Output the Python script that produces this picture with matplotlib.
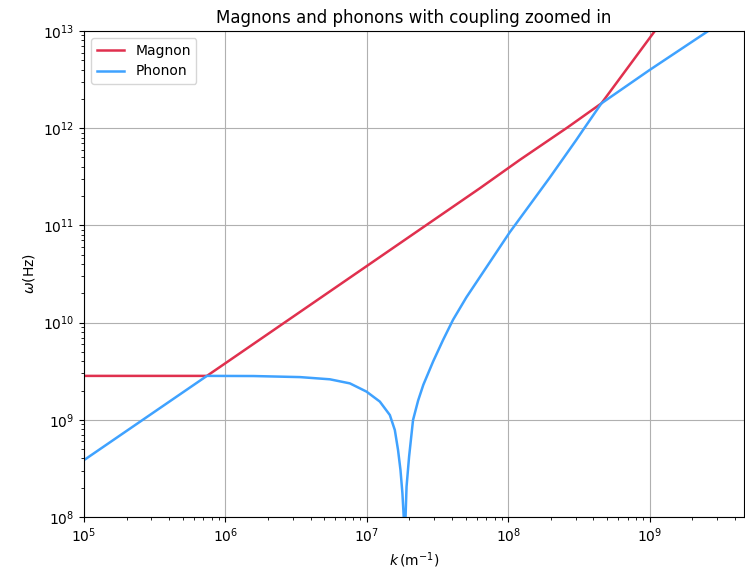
import matplotlib
matplotlib.use("Agg")
import matplotlib.pyplot as plt
import numpy as np

# values (k in 1/m, omega in Hz)
k_magnon = [1e5, 7.40e5, 1e6, 1e7, 6.30e7, 1.205e8, 2.63e8, 4.56e8,
            1.08e9, 1.58e9]
w_magnon = [2.83e9, 2.83e9, 3.82e9, 3.82e10, 2.41e11, 4.71e11, 1.02e12,
            1.80e12, 9.84e12, 2.1e13]

k_phonon = [1e5, 7.40e5, 1.58e6, 3.37e6, 5.48e6, 7.59e6, 9.95e6, 1.236e7,
            1.455e7, 1.578e7, 1.663e7, 1.730e7, 1.786e7, 1.824e7, 1.854e7,
            1.879e7, 1.910e7, 1.991e7, 2.123e7, 2.307e7, 2.51e7, 2.944e7,
            3.459e7, 4.074e7, 5.06e7, 7.40e7, 1.026e8, 1.419e8, 1.963e8,
            3.03e8, 3.38e8, 4.56e8, 1e9, 2.65e9, 5.0e9]
w_phonon = [3.85e8, 2.83e9, 2.82e9, 2.75e9, 2.61e9, 2.37e9, 1.95e9, 1.54e9,
            1.12e9, 7.85e8, 4.89e8, 3.05e8, 1.75e8, 1.01e8, 1e7,
            1.0e8, 2.05e8, 4.18e8, 9.95e8, 1.58e9, 2.29e9, 3.98e9,
            6.61e9, 1.07e10, 1.82e10, 4.17e10, 8.51e10, 1.62e11, 3.09e11,
            7.57e11, 9.57e11, 1.80e12, 3.97e12, 1.02e13, 1.9e13]

fig = plt.figure(figsize=(7.45, 5.78), dpi=100)
ax = fig.add_axes([84/745, 1 - 517/578, 1 - 84/745 - 0.001, (517 - 31)/578])

ax.plot(k_magnon, w_magnon, color='#e0304e', lw=1.8, label='Magnon')
ax.plot(k_phonon, w_phonon, color='#3fa2ff', lw=1.8, label='Phonon')

ax.set_xscale('log')
ax.set_yscale('log')
ax.set_xlim(1e5, 4.67e9)
ax.set_ylim(1e8, 1e13)
ax.grid(True, which='major', color='#b0b0b0', lw=0.8)
ax.set_title('Magnons and phonons with coupling zoomed in')
ax.set_xlabel(r'$k\,(\mathrm{m}^{-1})$')
ax.set_ylabel(r'$\omega$(Hz)')
ax.legend(loc='upper left')

fig.savefig('out.png', dpi=100)
